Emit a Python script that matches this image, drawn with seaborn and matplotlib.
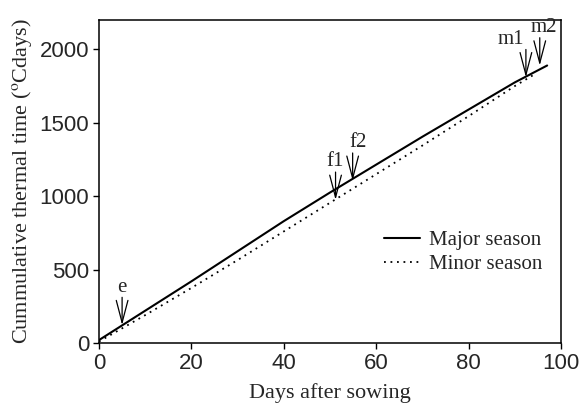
import matplotlib
matplotlib.use("Agg")
import matplotlib.pyplot as plt
import seaborn as sns
import pandas as pd

# Cumulative thermal time (°C days) against days after sowing
major_days = [0, 5, 10, 20, 30, 40, 50, 60, 70, 80, 90, 97]
major_tt = [20, 120, 220, 420, 625, 830, 1025, 1215, 1405, 1590, 1775, 1890]

minor_days = [0, 5, 10, 20, 30, 40, 50, 60, 70, 80, 90, 94]
minor_tt = [10, 100, 190, 375, 565, 760, 955, 1150, 1345, 1545, 1750, 1825]

# Phenological stages marked with arrows
stage_labels = ["e", "f1", "f2", "m1", "m2"]
stage_days = [5, 51.2, 54.9, 92.4, 95.4]
stage_tt = [122, 975, 1105, 1810, 1890]
label_shift = [0, 0, 4, -11, 3]  # horizontal label offsets, points

x_ticks = [0, 20, 40, 60, 80, 100]
y_ticks = [0, 500, 1000, 1500, 2000]

df = pd.concat([
    pd.DataFrame({"day": major_days, "tt": major_tt, "season": "Major season"}),
    pd.DataFrame({"day": minor_days, "tt": minor_tt, "season": "Minor season"}),
])

sns.set_style("ticks")
serif = ["Liberation Serif", "DejaVu Serif"]
sans = ["Liberation Sans", "DejaVu Sans"]
plt.rcParams["mathtext.fontset"] = "stix"

fig = plt.figure(figsize=(5.81, 4.08), dpi=100)
ax = fig.add_axes([0.1704, 0.1593, 0.7952, 0.7917])

sns.lineplot(data=df[df.season == "Major season"], x="day", y="tt",
             color="black", lw=1.5, label="Major season", ax=ax)
sns.lineplot(data=df[df.season == "Minor season"], x="day", y="tt",
             color="black", lw=1.3, dashes=False, ax=ax,
             label="Minor season", linestyle=(0, (1, 2.6)))

for lab, d, t, dx in zip(stage_labels, stage_days, stage_tt, label_shift):
    ax.annotate("", xy=(d, t), xytext=(0, 20), textcoords="offset points",
                arrowprops=dict(arrowstyle="->,head_length=1.6,head_width=0.42",
                                color="black", lw=0.9, mutation_scale=10,
                                shrinkA=0, shrinkB=0))
    ax.annotate(lab, xy=(d, t), xytext=(dx, 20.5), textcoords="offset points",
                ha="center", va="bottom", family=serif, fontsize=15)

ax.set_xlim(0, 100)
ax.set_ylim(0, 2200)
ax.set_xticks(x_ticks)
ax.set_yticks(y_ticks)
for lbl in ax.get_xticklabels() + ax.get_yticklabels():
    lbl.set_family(sans)
    lbl.set_fontsize(16)
ax.tick_params(direction="out", length=4, width=1, color="black", pad=3)

ax.set_xlabel("Days after sowing", family=serif, fontsize=16, labelpad=7)
ax.set_ylabel(r"Cummulative thermal time ($^{\mathrm{o}}$Cdays)",
              family=serif, fontsize=16, labelpad=4)

for s in ax.spines.values():
    s.set_visible(True)
    s.set_linewidth(1.1)
    s.set_color("black")

leg = ax.legend(loc="center right", bbox_to_anchor=(1.0, 0.28), frameon=False,
                prop={"family": serif, "size": 15}, handlelength=1.7,
                handletextpad=0.45, labelspacing=0.2, borderaxespad=0.5)

fig.savefig("out.png", dpi=100)
